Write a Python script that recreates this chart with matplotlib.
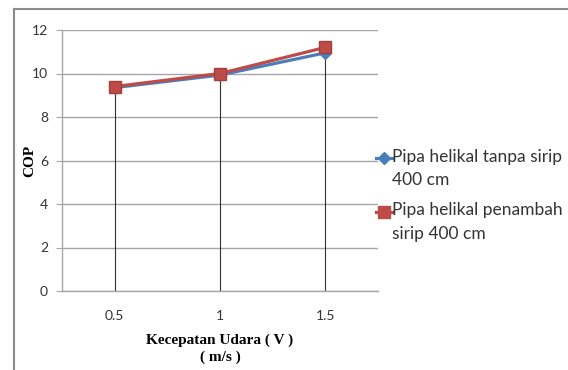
import matplotlib
matplotlib.use("Agg")
import matplotlib.pyplot as plt
from matplotlib.lines import Line2D

categories = ["0.5", "1", "1.5"]
tanpa_sirip = [9.35, 9.93, 10.95]
penambah_sirip = [9.4, 10.0, 11.2]
series_labels = ["Pipa helikal tanpa sirip\n400 cm", "Pipa helikal penambah\nsirip 400 cm"]
yticks = [0, 2, 4, 6, 8, 10, 12]

W, H = 568, 370
fig = plt.figure(figsize=(W / 100, H / 100), dpi=100)
ax = fig.add_axes([62 / W, 79 / H, 316 / W, 261 / H])

x = list(range(len(categories)))
blue = "#4A7EBB"
red = "#BE4B48"

# drop lines
for xi, a, b in zip(x, tanpa_sirip, penambah_sirip):
    ax.plot([xi, xi], [0, max(a, b)], color="#333333", lw=0.8, zorder=2)

ax.plot(x, tanpa_sirip, color=blue, lw=2.3, marker="D", markersize=6,
        markerfacecolor=blue, markeredgecolor=blue, zorder=3)
ax.plot(x, penambah_sirip, color=red, lw=2.3, marker="s", markersize=9,
        markerfacecolor=red, markeredgecolor="#A33E3B", zorder=4)

ax.set_xlim(-0.5, 2.5)
ax.set_ylim(0, 12)
ax.set_yticks(yticks)
ax.set_xticks(x)
ax.set_xticklabels(categories)
ax.grid(axis="y", color="#A6A6A6", lw=1)
ax.set_axisbelow(True)
for s in ["top", "right"]:
    ax.spines[s].set_visible(False)
for s in ["left", "bottom"]:
    ax.spines[s].set_color("#A6A6A6")
    ax.spines[s].set_linewidth(1)
ax.tick_params(axis="y", length=4, color="#A6A6A6", labelsize=10, pad=6, labelcolor="#333333")
ax.tick_params(axis="x", length=0, labelsize=10, pad=14, labelcolor="#333333")
for t in ax.get_xticklabels() + ax.get_yticklabels():
    t.set_family("Lato")

ax.set_ylabel("COP", family="Liberation Serif", fontweight="bold", fontsize=11, labelpad=2)
ax.yaxis.set_label_coords(-0.082, 0.5)
fig.text(220 / W, 1 - 340 / H, "Kecepatan Udara ( V )", family="Liberation Serif",
         fontweight="bold", fontsize=11, ha="center", va="center")
fig.text(220 / W, 1 - 357 / H, "( m/s )", family="Liberation Serif",
         fontweight="bold", fontsize=11, ha="center", va="center")

# legend drawn manually (handle aligned with the first text line)
leg_colors = [blue, red]
leg_markers = [("D", 6), ("s", 9)]
leg_y = [158, 212]
for lab, col, (mk, ms), yy in zip(series_labels, leg_colors, leg_markers, leg_y):
    yf = 1 - yy / H
    fig.add_artist(Line2D([376 / W, 392 / W], [yf, yf], color=col, lw=2.3,
                          transform=fig.transFigure))
    fig.add_artist(Line2D([384 / W], [yf], color=col, marker=mk, markersize=ms,
                          transform=fig.transFigure))
    fig.text(392 / W, yf + 9.5 / H, lab, family="Lato", fontsize=12.5, color="#333333",
             ha="left", va="top", linespacing=1.55, transform=fig.transFigure)

# outer chart frame
fig.add_artist(Line2D([14 / W, 14 / W], [0, 1 - 9 / H], color="#8C8C8C", lw=1.5,
                      transform=fig.transFigure))
fig.add_artist(Line2D([14 / W, 1], [1 - 9 / H, 1 - 9 / H], color="#8C8C8C", lw=1.5,
                      transform=fig.transFigure))

fig.savefig("out.png", dpi=100)
